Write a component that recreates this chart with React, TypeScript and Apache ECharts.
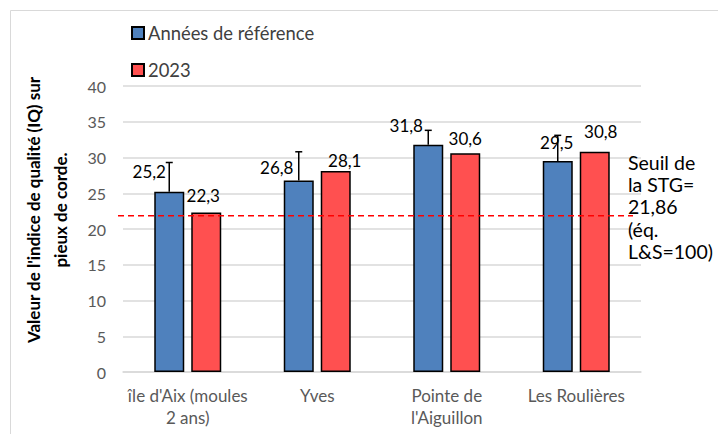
import React, { useEffect, useRef } from "react";
import * as echarts from "echarts";

const categories = ["île d'Aix (moules\n2 ans)", "Yves", "Pointe de\nl'Aiguillon", "Les Roulières"];
const refValues = [25.2, 26.8, 31.8, 29.5];
const refErrUpper = [4.1, 4.0, 2.0, 3.6];
const values2023 = [22.3, 28.1, 30.6, 30.8];
const threshold = 21.86;
const seriesNames = ["Années de référence", "2023"];
const yTicks = { min: 0, max: 40, interval: 5 };
const thresholdText = "Seuil de\nla STG=\n21,86\n(éq.\nL&S=100)";
const yTitle = "Valeur de l'indice de qualité (IQ) sur\npieux de corde.";

// label offsets (style only)
const refLabelOffsets = [[-20, -5], [-22, 2], [-22, -4], [-1, -4]];
const newLabelOffsets = [[-3, -2], [9, 4], [0, 0], [6, -5]];

const FONT = "Lato, 'Noto Sans', sans-serif";
const BAR_W = 30;
const BAR_GAP_PX = 7;
const BLUE_OFFSET = (BAR_W + BAR_GAP_PX) / 2;

const fmt = (v: number) => v.toFixed(1).replace(".", ",");

export default function App() {
  const ref = useRef<HTMLDivElement>(null);
  useEffect(() => {
    if (!ref.current) return;
    const chart = echarts.init(ref.current, null, { renderer: "svg" });
    const labelBase = {
      show: true,
      position: "top" as const,
      distance: 5,
      fontFamily: FONT,
      fontSize: 17,
      lineHeight: 20,
      color: "#000",
      formatter: (p: any) => fmt(p.value),
    };
    chart.setOption({
      animation: false,
      backgroundColor: "#fff",
      textStyle: { fontFamily: FONT },
      legend: {
        data: seriesNames,
        orient: "vertical",
        left: 126,
        top: 18,
        itemWidth: 12,
        itemHeight: 12,
        itemGap: 17,
        icon: "rect",
        selectedMode: false,
        textStyle: { fontFamily: FONT, fontSize: 18.4, lineHeight: 20, color: "#404040", padding: [0, 0, 0, -1] },
      },
      grid: { left: 123, right: 77, top: 86, bottom: 62, containLabel: false },
      xAxis: {
        type: "category",
        data: categories,
        axisLine: { show: true, lineStyle: { color: "#d9d9d9", width: 1.5 } },
        axisTick: { show: false },
        axisLabel: { fontFamily: FONT, fontSize: 17, lineHeight: 21.5, color: "#595959", margin: 13, interval: 0 },
      },
      yAxis: {
        type: "value",
        min: yTicks.min,
        max: yTicks.max,
        interval: yTicks.interval,
        axisLine: { show: false },
        axisTick: { show: false },
        axisLabel: { fontFamily: FONT, fontSize: 16, color: "#595959", margin: 17 },
        splitLine: { lineStyle: { color: "#d9d9d9", width: 1.5 } },
      },
      graphic: [
        {
          type: "rect",
          shape: { x: 10.5, y: 10.5, width: 720, height: 440 },
          style: { fill: "none", stroke: "#d9d9d9", lineWidth: 1 },
          silent: true,
          z: -10,
        },
        {
          type: "text",
          x: 47,
          y: 210,
          rotation: Math.PI / 2,
          style: {
            text: yTitle,
            fontFamily: FONT,
            fontSize: 17,
            fontWeight: "bold",
            lineHeight: 27,
            fill: "#000",
            align: "center",
            verticalAlign: "middle",
          },
        },
        {
          type: "text",
          left: 628,
          top: 151,
          style: {
            text: thresholdText,
            fontFamily: FONT,
            fontSize: 19.5,
            lineHeight: 22.3,
            fill: "#000",
          },
          z: 20,
        },
      ],
      series: [
        {
          name: seriesNames[0],
          type: "bar",
          barWidth: BAR_W,
          barGap: ((BAR_GAP_PX / BAR_W) * 100).toFixed(1) + "%",
          itemStyle: { color: "#4F81BD", borderColor: "#000", borderWidth: 1.5 },
          label: labelBase,
          data: refValues.map((v, i) => ({ value: v, label: { offset: refLabelOffsets[i] } })),
          z: 3,
        },
        {
          name: seriesNames[1],
          type: "bar",
          barWidth: BAR_W,
          itemStyle: { color: "#FF5050", borderColor: "#000", borderWidth: 1.5 },
          label: labelBase,
          data: values2023.map((v, i) => ({ value: v, label: { offset: newLabelOffsets[i] } })),
          z: 3,
        },
        {
          type: "custom",
          silent: true,
          z: 5,
          encode: { x: 0, y: [1, 2] },
          data: refValues.map((v, i) => [i, v, v + refErrUpper[i]]),
          renderItem: (params: any, api: any) => {
            const i = api.value(0);
            const base = api.coord([i, api.value(1)]);
            const top = api.coord([i, api.value(2)]);
            const x = base[0] - BLUE_OFFSET;
            return {
              type: "group",
              children: [
                { type: "line", shape: { x1: x, y1: base[1], x2: x, y2: top[1] }, style: { stroke: "#000", lineWidth: 1.5 } },
                { type: "line", shape: { x1: x - 3.5, y1: top[1], x2: x + 3.5, y2: top[1] }, style: { stroke: "#000", lineWidth: 1.5 } },
              ],
            };
          },
        },
        {
          type: "custom",
          silent: true,
          z: 6,
          encode: { x: 0, y: 1 },
          data: [[0, threshold]],
          renderItem: (params: any, api: any) => {
            const y = api.coord([0, api.value(1)])[1];
            const cs = params.coordSys;
            return {
              type: "line",
              shape: { x1: cs.x - 5, y1: y, x2: cs.x + cs.width - 8, y2: y },
              style: { stroke: "#FF0000", lineWidth: 1.5, lineDash: [6, 4] },
            };
          },
        },
      ],
    });
    return () => chart.dispose();
  }, []);
  return <div ref={ref} style={{ position: "fixed", left: 0, top: 0, width: 718, height: 434 }} />;
}
